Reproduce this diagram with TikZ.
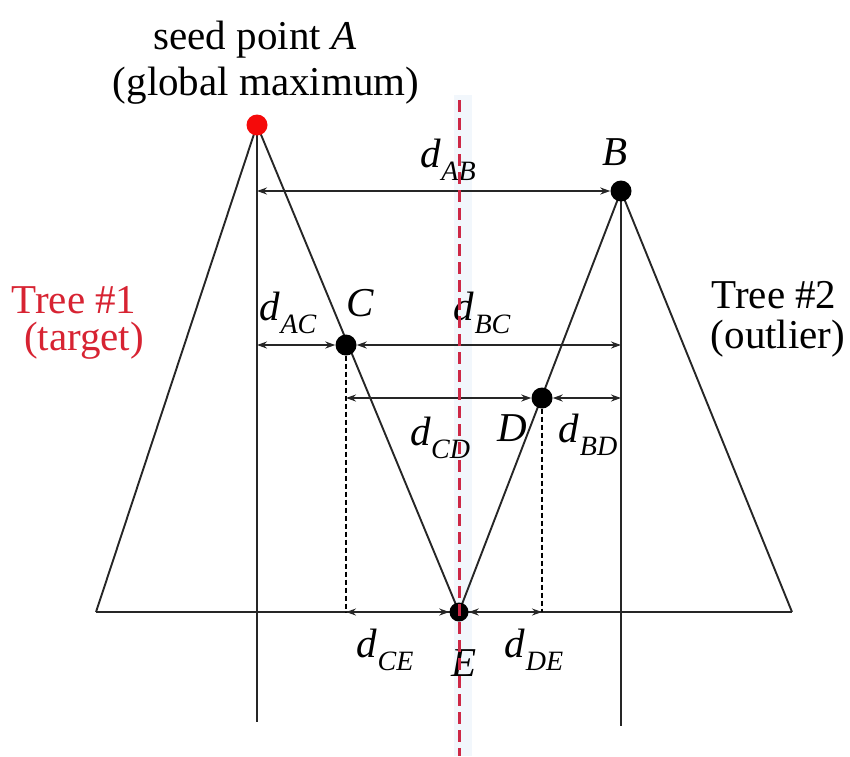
\documentclass[tikz,border=0pt]{standalone}
\usepackage{fontspec}
\setmainfont{LiberationSerif}[Extension=.ttf, UprightFont=*-Regular, ItalicFont=*-Italic, BoldFont=*-Bold, BoldItalicFont=*-BoldItalic]
\usetikzlibrary{arrows.meta}
\definecolor{dotred}{RGB}{245,10,10}
\definecolor{labred}{RGB}{215,35,50}
\definecolor{axred}{RGB}{205,40,70}
\definecolor{band}{RGB}{242,247,252}
\newcommand\dlab[1]{\textit{d}\kern0.5pt\raisebox{-0.32em}{\fontsize{28}{28}\selectfont\textit{#1}}}
\begin{document}
\begin{tikzpicture}[x=1pt,y=-1pt,
  tree/.style={line width=1.9pt, black!85},
  dim/.style={line width=1.7pt, black!85, {Stealth[length=10pt,width=7pt]}-{Stealth[length=10pt,width=7pt]}},
  guide/.style={line width=1.5pt, dash pattern=on 5pt off 3pt},
  dot/.style={circle, fill=black, inner sep=0pt, minimum size=21pt},
  lab/.style={font=\fontsize{41}{44}\selectfont, inner sep=0pt},
  axis/.style={axred, line width=3pt, dash pattern=on 12pt off 6pt}]
\useasboundingbox (0,0) rectangle (850,756);
\fill[band] (454,95) rectangle (472,756);
% geometry
\coordinate (pA) at (257,125);
\coordinate (pB) at (621,191);
\coordinate (pC) at (346,345);
\coordinate (pD) at (542,398);
\coordinate (pE) at (459,612);
\coordinate (L1) at (96,612);
\coordinate (R2) at (792,612);
\coordinate (vA) at (257,722);
\coordinate (vB) at (621,726);
% trees
\draw[tree] (L1) -- (pA) -- (pE);
\draw[tree] (pE) -- (pB) -- (R2);
\draw[tree] (L1) -- (R2);
\draw[tree] (pA) -- (vA);
\draw[tree] (pB) -- (vB);
% dots
\node[dot, fill=dotred] (A) at (pA) {};
\node[dot] (B) at (pB) {};
\node[dot] (C) at (pC) {};
\node[dot] (D) at (pD) {};
\node[dot, minimum size=19pt] (E) at (pE) {};
% dimension coordinates
\coordinate (aB) at (257,191);
\coordinate (aC) at (257,345);
\coordinate (bC) at (621,345);
\coordinate (cD) at (346,398);
\coordinate (bD) at (621,398);
\coordinate (cE) at (346,612);
\coordinate (dE) at (542,612);
\draw[guide] (C) -- (cE);
\draw[guide] (D) -- (dE);
\draw[dim] (aB) -- (B);
\draw[dim] (aC) -- (C);
\draw[dim] (C) -- (bC);
\draw[dim] (cD) -- (D);
\draw[dim] (D) -- (bD);
\draw[dim] (cE) -- (E);
\draw[dim] (E) -- (dE);
% labels
\node[lab] (seed) at (255,40) {seed point \textit{A}};
\node[lab] (glob) at (266,86) {(global maximum)};
\node[lab, text=labred] (t1) at (74,300) {Tree \#1};
\node[lab, text=labred] (t1b) at (84,341) {(target)};
\node[lab] (t2) at (774,295) {Tree \#2};
\node[lab] (t2b) at (778,339) {(outlier)};
\node[lab] (lB) at (615,152) {\textit{B}};
\node[lab] (lC) at (360,303) {\textit{C}};
\node[lab] (lD) at (512,428) {\textit{D}};
\node[lab] (lE) at (464,663) {\textit{E}};
\node[lab] (dAB) at (448,160) {\dlab{AB}};
\node[lab] (dAC) at (288,313) {\dlab{AC}};
\node[lab] (dBC) at (482,313) {\dlab{BC}};
\node[lab] (dCD) at (440,438) {\dlab{CD}};
\node[lab] (dBD) at (588,435) {\dlab{BD}};
\node[lab] (dCE) at (385,650) {\dlab{CE}};
\node[lab] (dDE) at (534,650) {\dlab{DE}};
% red axis on top
\coordinate (axT) at (459,100);
\coordinate (axB) at (459,756);
\draw[axis] (axT) -- (axB);
\end{tikzpicture}
\end{document}
